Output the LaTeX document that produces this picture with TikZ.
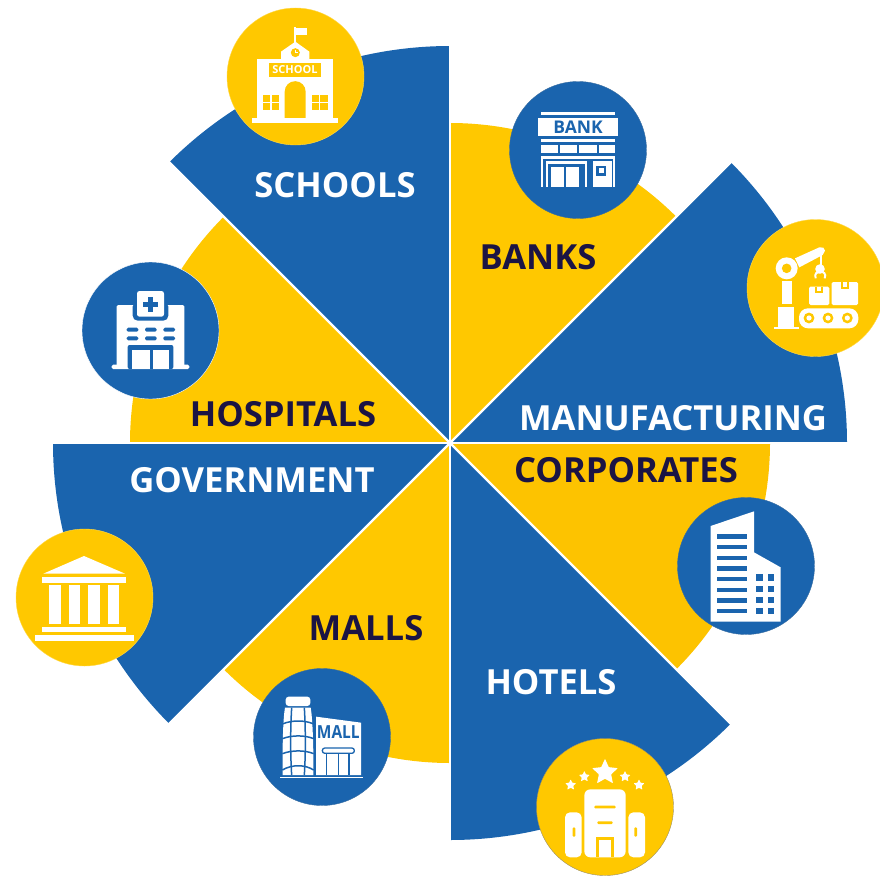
\documentclass[tikz,border=0pt]{standalone}
\usepackage{fontspec}
\setmainfont{Open Sans}
\usetikzlibrary{shapes.geometric}
\definecolor{bl}{HTML}{1A64AE}
\definecolor{yl}{HTML}{FFC800}
\definecolor{yc}{HTML}{FDC300}
\definecolor{dk}{HTML}{1B1444}
\tikzset{
 wedgecentre/.style={shift={(450,443)},x=1pt,y=1pt},
 icon/.style 2 args={shift={(#1,#2)},x=0.33333pt,y=-0.33333pt},
 disc/.style={circle,minimum size=137pt,inner sep=0pt,draw=#1},
 onblue/.style={font=\bfseries\fontsize{34.6}{34.6}\selectfont,text=white,inner sep=0pt},
 onyellow/.style={font=\bfseries\fontsize{34.6}{34.6}\selectfont,text=dk,inner sep=0pt},
 bigstar/.style={star,star points=5,star point ratio=2.1,fill=white,inner sep=0pt,minimum size=#1,rounded corners=0.6pt},
}
\begin{document}
\begin{tikzpicture}[x=1pt,y=-1pt]
\useasboundingbox (0,0) rectangle (880,875);
\begin{scope}[wedgecentre]
 \fill[bl] (0,0) -- (90:397) arc[start angle=90,end angle=135,radius=397] -- cycle;
 \fill[yl] (0,0) -- (45:320) arc[start angle=45,end angle=90,radius=320] -- cycle;
 \fill[bl] (0,0) -- (0:397) arc[start angle=0,end angle=45,radius=397] -- cycle;
 \fill[yl] (0,0) -- (135:320) arc[start angle=135,end angle=180,radius=320] -- cycle;
 \fill[bl] (0,0) -- (180:397) arc[start angle=180,end angle=225,radius=397] -- cycle;
 \fill[yl] (0,0) -- (225:320) arc[start angle=225,end angle=270,radius=320] -- cycle;
 \fill[bl] (0,0) -- (270:397) arc[start angle=270,end angle=315,radius=397] -- cycle;
 \fill[yc] (0,0) -- (315:320) arc[start angle=315,end angle=360,radius=320] -- cycle;
 \foreach \a in {0,45,90,135,180,225,270,315}
  \draw[white,line width=2.4pt] (0,0) -- (\a:400);
\end{scope}

\node[disc=yl!70!white,fill=yl] (cschool) at (295.5,76.5) {};
\node[disc=bl!70!gray,fill=bl] (cbank) at (578,150) {};
\node[disc=yl!70!white,fill=yl] (cmfg) at (815.5,288) {};
\node[disc=white,fill=bl] (chosp) at (150.5,330.5) {};
\node[disc=bl!70!gray,fill=bl] (ccorp) at (746,566) {};
\node[disc=yl!70!white,fill=yl] (cgov) at (84.5,597.5) {};
\node[disc=bl!70!gray,fill=bl] (cmall) at (322,737) {};
\node[disc=gray!80!yl,fill=yl] (chotel) at (605,807) {};

\node[onblue] (lschools) at (335,185) {SCHOOLS};
\node[onyellow] (lbanks) at (538,257) {BANKS};
\node[onblue] (lmfg) at (673,418) {MANUFACTURING};
\node[onyellow] (lhosp) at (283,414) {HOSPITALS};
\node[onblue] (lgov) at (252,480) {GOVERNMENT};
\node[onyellow] (lcorp) at (626,470) {CORPORATES};
\node[onyellow] (lmalls) at (366,628) {MALLS};
\node[onblue] (lhotels) at (551,682) {HOTELS};

% school
\begin{scope}[icon={220}{0}]
 \fill[white] (95,354) rectangle (355,370);
 \fill[white] (112,176) rectangle (338,356);
 \fill[white] (183,177) -- (183,155) -- (226,125) -- (268,155) -- (268,177) -- cycle;
 \fill[white] (222,82) rectangle (228,128);
 \fill[white] (228,84) rectangle (262,105);
 \fill[yl] (226,158) circle[radius=4.5pt];
 \draw[white,line width=0.6pt] (226,150) -- (226,158) -- (233,158);
 \fill[yl] (146,188) rectangle (303,230);
 \node[text=white,font=\bfseries\fontsize{11}{11}\selectfont,inner sep=0pt] (tschool) at (225,209) {SCHOOL};
 \fill[yl] (194,354) -- (194,275) arc[start angle=180,end angle=0,radius=10.5pt] -- (257,354) -- cycle;
 \foreach \x in {129,275}{
  \fill[yl] (\x,284) rectangle ++(48,47);
  \fill[white] (\x+22,284) rectangle ++(4,47);
  \fill[white] (\x,305) rectangle ++(48,5);
 }
\end{scope}

% bank
\begin{scope}[icon={500}{75}]
 \fill[white] (122,112) rectangle (346,121);
 \fill[white] (113,130) rectangle (355,184);
 \node[text=bl,font=\bfseries\fontsize{17.5}{17.5}\selectfont,inner sep=0pt] (tbank) at (234,157) {BANK};
 \fill[white] (122,193) rectangle (346,202);
 \fill[white] (122,210) rectangle (174,235);
 \fill[white] (180,210) rectangle (232,235);
 \fill[white] (238,210) rectangle (290,235);
 \fill[white] (297,210) rectangle (346,235);
 \fill[white] (122,243) rectangle (346,335);
 \fill[bl] (130,251) rectangle (340,335);
 \fill[white] (137,258) rectangle (262,335);
 \fill[bl] (145,266) rectangle (254,335);
 \fill[white] (152,276) rectangle (236,335);
 \fill[bl] (191,276) rectangle (197,335);
 \fill[white] (278,258) rectangle (337,335);
 \fill[bl] (289,273) rectangle (319,302);
 \fill[white] (296,280) rectangle (312,295);
\end{scope}

% manufacturing
\begin{scope}[icon={740}{215}]
 \fill[white] (140,160) circle[radius=11pt];
 \fill[yl] (140,160) circle[radius=4.8pt];
 \fill[white] (165,130) -- (238,97) -- (250,98) -- (255,107) -- (248,120) -- (178,157) -- cycle;
 \fill[white] (240,112) rectangle (247,150);
 \fill[white] (240,162) circle[radius=4.8pt];
 \draw[white,line width=2pt] (227,190) .. controls (222,175) and (232,170) .. (240,170) .. controls (250,170) and (260,175) .. (254,190);
 \fill[white] (125,197) rectangle (155,268);
 \fill[white] (113,276) rectangle (163,336);
 \fill[white] (102,336) rectangle (178,343);
 \fill[white,rounded corners=9pt] (177,280) rectangle (355,340);
 \foreach \x in {207,264,322}{
  \fill[yl] (\x,309) circle[radius=5.4pt];
  \fill[white] (\x,309) circle[radius=2.6pt];
 }
 \fill[white,rounded corners=1.5pt] (207,215) rectangle (268,270);
 \fill[white,rounded corners=1.5pt] (275,201) rectangle (354,270);
 \fill[yl] (226,215) rectangle (248,233);
 \fill[white] (231,215) rectangle (243,228);
 \fill[yl] (303,201) rectangle (327,222);
 \fill[white] (308,201) rectangle (322,216);
\end{scope}

% hospital
\begin{scope}[icon={75}{255}]
 \fill[white,rounded corners=1.5pt] (125,150) rectangle (328,335);
 \fill[white,rounded corners=1.5pt] (110,329) rectangle (343,342);
 \fill[bl,rounded corners=5pt] (173,140) rectangle (280,197);
 \fill[white,rounded corners=2.5pt] (186,108) rectangle (267,185);
 \fill[bl] (220,127) rectangle (234,171);
 \fill[bl] (205,142) rectangle (249,156);
 \foreach \x in {155,210,265}\foreach \y in {218,244}
  \fill[bl,rounded corners=1.5pt] (\x,\y) rectangle ++(35,12);
 \fill[bl,rounded corners=2pt] (158,270) rectangle (295,342);
 \fill[white] (170,285) rectangle (225,342);
 \fill[white] (233,285) rectangle (283,342);
\end{scope}

% corporates
\begin{scope}[icon={670}{490}]
 \fill[white] (122,108) -- (252,64) -- (252,187) -- (332,232) -- (332,395) -- (122,395) -- cycle;
 \foreach \y in {139,171,203,235,267,299,331,363}
  \fill[bl] (141,\y-6.5) rectangle (232,\y+6.5);
 \foreach \x in {258,293}\foreach \y in {253,287,320,353}
  \fill[bl] (\x,\y) rectangle ++(20,19);
\end{scope}

% government
\begin{scope}[icon={10}{525}]
 \fill[white] (100,146) -- (222,93) -- (345,146) -- cycle;
 \fill[white] (97,155) rectangle (348,173);
 \foreach \x in {118,177,235,294}
  \fill[white] (\x,181) rectangle ++(34,116);
 \fill[white] (97,306) rectangle (348,322);
 \fill[white] (75,331) rectangle (371,347);
\end{scope}

% mall
\begin{scope}[icon={245}{660}]
 \fill[white,rounded corners=3pt] (122,110) rectangle (196,138);
 \fill[white] (120,143) -- (197,143) .. controls (204,180) and (206,290) .. (205,345) -- (113,345) .. controls (112,290) and (113,180) .. (120,143) -- cycle;
 \draw[bl,line width=1.5pt] (112,192) .. controls (140,180) and (180,180) .. (206,192);
 \draw[bl,line width=1.5pt] (112,236) .. controls (140,225) and (180,225) .. (206,236);
 \draw[bl,line width=1.5pt] (112,281) .. controls (140,270) and (180,270) .. (206,281);
 \draw[bl,line width=1.5pt] (112,330) .. controls (140,313) and (180,313) .. (206,330);
 \draw[bl,line width=1.5pt] (140,143) .. controls (136,210) and (136,280) .. (140,345);
 \draw[bl,line width=1.5pt] (178,143) .. controls (182,210) and (182,280) .. (178,345);
 \fill[white] (213,170) -- (348,188) -- (348,345) -- (213,345) -- cycle;
 \node[text=bl,font=\bfseries\fontsize{18}{18}\selectfont,inner sep=0pt,xscale=0.86] (tmall) at (280,216) {MALL};
 \draw[bl,line width=1.3pt,rounded corners=2.5pt] (232,264) rectangle (328,280);
 \draw[bl,line width=1.3pt] (245,280) -- (245,345) (280,280) -- (280,345) (312,280) -- (312,345);
 \fill[white] (105,350) rectangle (355,354);
\end{scope}

% hotel
\begin{scope}[icon={530}{735}]
 \node[bigstar=27pt] (s0) at (225,112) {};
 \node[bigstar=11.5pt] (s1) at (122,150) {};
 \node[bigstar=11.5pt] (s2) at (163,125) {};
 \node[bigstar=11.5pt] (s3) at (285,125) {};
 \node[bigstar=11.5pt] (s4) at (327,150) {};
 \fill[white,rounded corners=6pt] (163,163) rectangle (287,367);
 \fill[yl,rounded corners=1pt] (193,212) rectangle (257,220);
 \fill[yl,rounded corners=1pt] (202,259) rectangle (248,267);
 \fill[yl] (198,305) rectangle (252,367);
 \fill[white] (208,314) rectangle (242,367);
 \fill[white,rounded corners=5pt] (105,232) rectangle (155,367);
 \fill[white,rounded corners=5pt] (295,232) rectangle (345,367);
 \fill[yl,rounded corners=1pt] (128,277) rectangle (136,305);
 \fill[yl,rounded corners=1pt] (313,277) rectangle (321,305);
\end{scope}
\end{tikzpicture}
\end{document}
